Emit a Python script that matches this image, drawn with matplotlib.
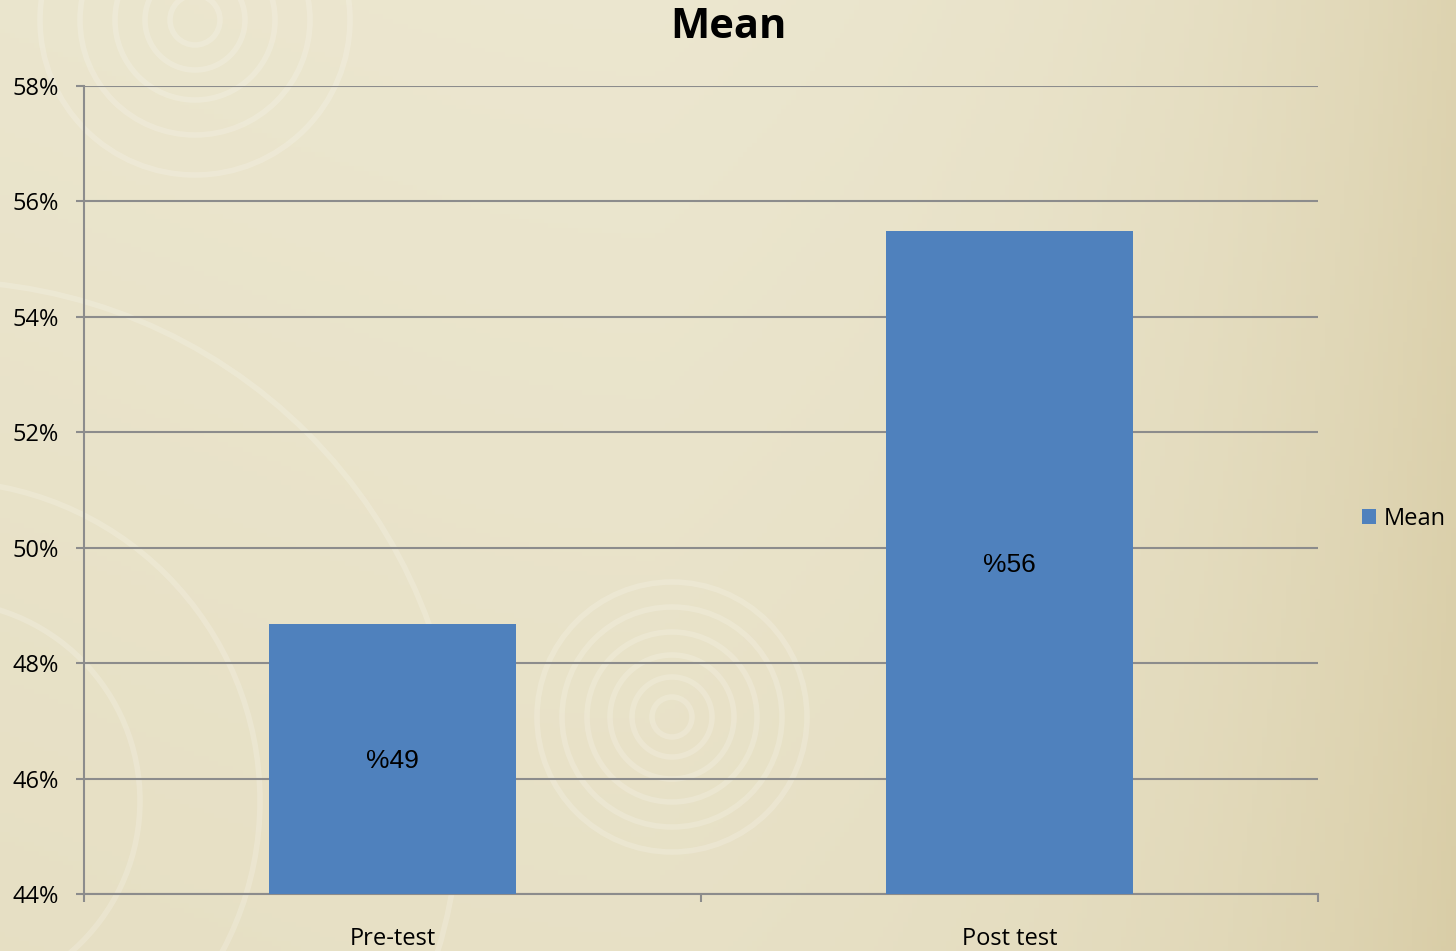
import numpy as np
import matplotlib.pyplot as plt
from matplotlib.patches import Circle
from matplotlib.ticker import FuncFormatter

categories = ["Pre-test", "Post test"]
mean_values = [48.68, 55.49]
value_labels = ["%49", "%56"]
y_ticks = [44, 46, 48, 50, 52, 54, 56, 58]

fig = plt.figure(figsize=(14.56, 9.51), dpi=100)

# fondo beige con degradado y espirales suaves
bg = fig.add_axes([0, 0, 1, 1], zorder=0)
xx, yy = np.meshgrid(np.linspace(0, 1, 300), np.linspace(0, 1, 200))
shade = 0.6 * xx ** 5 + 0.2 * (1 - yy) + 0.12 * np.abs(xx - 0.45)
light = np.array([0.925, 0.905, 0.815])
dark = np.array([0.84, 0.79, 0.63])
img = light[None, None, :] * (1 - shade[..., None]) + dark[None, None, :] * shade[..., None]
bg.imshow(img, extent=[0, 1456, 0, 951], aspect="auto", origin="lower")
for cx, cy, radii in [(195, 931, [25, 50, 80, 115, 155]),
                      (672, 234, [20, 40, 62, 85, 110, 135]),
                      (-60, 150, [200, 320, 520])]:
    for r in radii:
        bg.add_patch(Circle((cx, cy), r, fill=False, ec="white", lw=4, alpha=0.18))
bg.set_xlim(0, 1456)
bg.set_ylim(0, 951)
bg.axis("off")

ax = fig.add_axes([84 / 1456, 57 / 951, 1234 / 1456, 808 / 951], zorder=1)
ax.patch.set_alpha(0)

x = np.arange(len(categories))
bars = ax.bar(x, [v - 44 for v in mean_values], bottom=44, width=0.4,
              color="#4f81bd", label="Mean", zorder=3)
for b, lab in zip(bars, value_labels):
    ax.text(b.get_x() + b.get_width() / 2, 44 + b.get_height() / 2, lab,
            ha="center", va="center_baseline", fontsize=19,
            family="Liberation Sans", zorder=4)

ax.set_xlim(-0.5, 1.5)
ax.set_ylim(44, 58)
ax.set_yticks(y_ticks)
ax.yaxis.set_major_formatter(FuncFormatter(lambda v, p: f"{v:.0f}%"))
ax.grid(axis="y", color="#8c8c8c", lw=1.5, zorder=1)
ax.set_axisbelow(True)

ax.set_xticks([-0.5, 0.5, 1.5])
ax.set_xticklabels([])
ax.set_xticks(x, minor=True)
ax.set_xticklabels(categories, minor=True, family="Open Sans", fontsize=17)
ax.tick_params(axis="x", which="minor", length=0, pad=24)
ax.tick_params(axis="x", which="major", length=6, color="#8c8c8c", width=1.5)
ax.tick_params(axis="y", length=6, color="#8c8c8c", width=1.5, pad=12)
for t in ax.get_yticklabels():
    t.set_family("Open Sans")
    t.set_fontsize(17)

for s in ["top", "right"]:
    ax.spines[s].set_visible(False)
for s in ["left", "bottom"]:
    ax.spines[s].set_color("#8c8c8c")
    ax.spines[s].set_linewidth(1.5)

fig.text(0.5, 1 - 27 / 951, "Mean", ha="center", va="center",
         fontsize=30, fontweight="bold", family="Open Sans")

fig.legend(handles=[bars], labels=["Mean"], loc="center left",
           bbox_to_anchor=(1362 / 1456, 1 - 519 / 951), frameon=False,
           borderaxespad=0, borderpad=0,
           prop={"family": "Open Sans", "size": 17}, handlelength=0.6,
           handleheight=0.6, handletextpad=0.3)

fig.savefig("out.png", dpi=100)
